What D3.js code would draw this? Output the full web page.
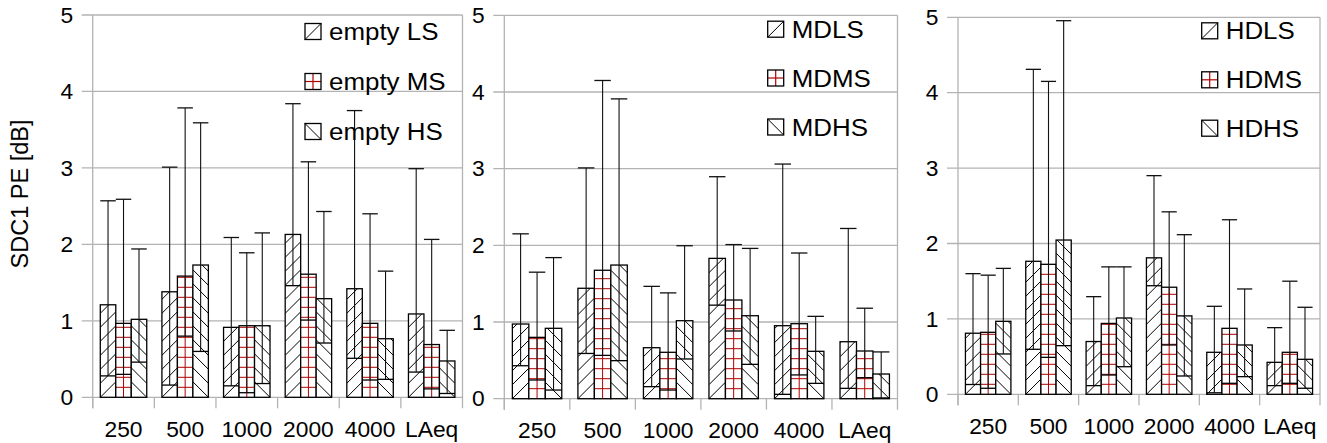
<!DOCTYPE html>
<html><head><meta charset="utf-8">
<script src="https://cdn.jsdelivr.net/npm/d3@7"></script>
<style>
body{margin:0;background:#fff}
svg{display:block}
text{font-family:"Liberation Sans",Arial,sans-serif;fill:#000}
</style>
</head><body>
<svg id="chart" width="1327" height="443"></svg>
<script>
// ---------- data ----------
const categories = ["250", "500", "1000", "2000", "4000", "LAeq"];
const yTicks = [0, 1, 2, 3, 4, 5];
const seriesKeys = ["LS", "MS", "HS"];
const yLabel = "SDC1 PE [dB]";

const emptyNames = ["empty LS", "empty MS", "empty HS"];
const emptyLS_bar   = [1.21, 1.38, 0.915, 2.13, 1.42, 1.09];
const emptyLS_low   = [0.28, 0.16, 0.15, 1.46, 0.51, 0.33];
const emptyLS_high  = [2.57, 3.01, 2.09, 3.84, 3.75, 2.99];
const emptyMS_bar   = [0.967, 1.585, 0.936, 1.61, 0.967, 0.69];
const emptyMS_low   = [0.30, 0.80, 0.06, 1.01, 0.226, 0.11];
const emptyMS_high  = [2.59, 3.785, 1.89, 3.08, 2.40, 2.065];
const emptyHS_bar   = [1.02, 1.73, 0.936, 1.29, 0.766, 0.475];
const emptyHS_low   = [0.46, 0.60, 0.18, 0.71, 0.235, 0.05];
const emptyHS_high  = [1.94, 3.59, 2.15, 2.43, 1.65, 0.876];

const mdNames = ["MDLS", "MDMS", "MDHS"];
const mdLS_bar  = [0.974, 1.44, 0.665, 1.83, 0.952, 0.743];
const mdLS_low  = [0.43, 0.59, 0.157, 1.22, 0.057, 0.135];
const mdLS_high = [2.15, 3.01, 1.465, 2.895, 3.06, 2.22];
const mdMS_bar  = [0.80, 1.675, 0.605, 1.287, 0.978, 0.622];
const mdMS_low  = [0.244, 0.565, 0.113, 0.883, 0.31, 0.274];
const mdMS_high = [1.65, 4.15, 1.38, 2.01, 1.90, 1.18];
const mdHS_bar  = [0.918, 1.743, 1.017, 1.082, 0.618, 0.322];
const mdHS_low  = [0.113, 0.496, 0.518, 0.448, 0.20, 0.01];
const mdHS_high = [1.84, 3.91, 1.995, 1.96, 1.074, 0.61];

const hdNames = ["HDLS", "HDMS", "HDHS"];
const hdLS_bar  = [0.81, 1.764, 0.70, 1.81, 0.557, 0.424];
const hdLS_low  = [0.13, 0.597, 0.115, 1.44, 0.02, 0.115];
const hdLS_high = [1.60, 4.31, 1.295, 2.90, 1.167, 0.884];
const hdMS_bar  = [0.822, 1.724, 0.94, 1.42, 0.875, 0.557];
const hdMS_low  = [0.08, 0.49, 0.256, 0.654, 0.146, 0.146];
const hdMS_high = [1.58, 4.15, 1.69, 2.42, 2.315, 1.50];
const hdHS_bar  = [0.968, 2.046, 1.012, 1.04, 0.654, 0.464];
const hdHS_low  = [0.535, 0.645, 0.366, 0.243, 0.234, 0.08];
const hdHS_high = [1.67, 4.955, 1.69, 2.117, 1.397, 1.154];

// ---------- layout ----------
const panels = [
  {names: emptyNames, bar: [emptyLS_bar, emptyMS_bar, emptyHS_bar],
   low: [emptyLS_low, emptyMS_low, emptyHS_low], high: [emptyLS_high, emptyMS_high, emptyHS_high],
   left: 92.7, right: 462.5, top: 15, bottom: 397.3,
   legX: 305, legY: [40, 90, 140]},
  {names: mdNames, bar: [mdLS_bar, mdMS_bar, mdHS_bar],
   low: [mdLS_low, mdMS_low, mdHS_low], high: [mdLS_high, mdMS_high, mdHS_high],
   left: 504.3, right: 897.5, top: 15.3, bottom: 398.7,
   legX: 767.7, legY: [37.7, 86.5, 135.5]},
  {names: hdNames, bar: [hdLS_bar, hdMS_bar, hdHS_bar],
   low: [hdLS_low, hdMS_low, hdHS_low], high: [hdLS_high, hdMS_high, hdHS_high],
   left: 958, right: 1320, top: 17.3, bottom: 394.3,
   legX: 1201.7, legY: [39.3, 88.3, 136.7]}
];

const svg = d3.select("#chart");
const defs = svg.append("defs");
const GRID = "#b3b3b3";
const RED = "#b00000";
const DIAG = 14;   // vertical period of diagonal hatch
const GRIDP = 10;  // period of red grid hatch
const TICK_FS = 21.5, TICK_SX = 1.06;
const LEG_FS = 24, LEG_SX = 1.08;
let clipId = 0;

function stretchedText(g, x, y, str, fs, sx, anchor, dy) {
  return g.append("text")
    .attr("transform", `translate(${x},${y}) scale(${sx},1)`)
    .attr("text-anchor", anchor).attr("dy", dy || null)
    .attr("font-size", fs).text(str);
}

function hatch(g, kind, bx, by, w, h) {
  const id = "clip" + (clipId++);
  defs.append("clipPath").attr("id", id)
    .append("rect").attr("x", bx).attr("y", by).attr("width", w).attr("height", h);
  const hg = g.append("g").attr("clip-path", `url(#${id})`);
  const yb = by + h;
  if (kind === "LS" || kind === "HS") {
    const n = Math.ceil((h + w) / DIAG) + 1;
    const ks = d3.range(n);
    hg.selectAll("line").data(ks).join("line")
      .attr("x1", bx).attr("x2", bx + w)
      .attr("y1", k => kind === "LS" ? yb - k * DIAG : yb - k * DIAG - w)
      .attr("y2", k => kind === "LS" ? yb - k * DIAG - w : yb - k * DIAG)
      .attr("stroke", "#000").attr("stroke-width", 1);
  } else {
    const ks = d3.range(1, Math.ceil(h / GRIDP) + 1);
    hg.selectAll("line.h").data(ks).join("line").attr("class", "h")
      .attr("x1", bx).attr("x2", bx + w)
      .attr("y1", k => yb - k * GRIDP).attr("y2", k => yb - k * GRIDP)
      .attr("stroke", RED).attr("stroke-width", 1);
    hg.append("line")
      .attr("x1", bx + w / 2).attr("x2", bx + w / 2).attr("y1", by).attr("y2", yb)
      .attr("stroke", RED).attr("stroke-width", 1);
  }
}

panels.forEach(p => {
  const g = svg.append("g");
  const x0 = d3.scaleBand().domain(categories).range([p.left, p.right]);
  const x1 = d3.scaleBand().domain(seriesKeys).range([0, x0.bandwidth()]).paddingOuter(0.49);
  const y = d3.scaleLinear().domain([0, 5]).range([p.bottom, p.top]);

  // gridlines + y ticks
  g.selectAll("line.grid").data(yTicks).join("line").attr("class", "grid")
    .attr("x1", p.left - 11).attr("x2", p.right)
    .attr("y1", d => y(d)).attr("y2", d => y(d))
    .attr("stroke", GRID).attr("stroke-width", 1.3);
  // left axis and right border
  [p.left, p.right].forEach(xx => {
    g.append("line").attr("x1", xx).attr("x2", xx).attr("y1", y(5)).attr("y2", y(0) + 11)
      .attr("stroke", GRID).attr("stroke-width", 1.3);
  });
  // category separators ticks
  g.selectAll("line.ct").data(categories).join("line").attr("class", "ct")
    .attr("x1", d => x0(d)).attr("x2", d => x0(d))
    .attr("y1", y(0)).attr("y2", y(0) + 11)
    .attr("stroke", GRID).attr("stroke-width", 1.3);

  // y tick labels
  yTicks.forEach(t => stretchedText(g, p.left - 19.5, y(t), String(t), TICK_FS, TICK_SX, "end", "0.36em"));
  // x tick labels
  categories.forEach(c => stretchedText(g, x0(c) + x0.bandwidth() / 2, y(0) + 39.5, c, TICK_FS, TICK_SX, "middle"));

  // bars
  seriesKeys.forEach((s, si) => {
    categories.forEach((c, ci) => {
      const v = p.bar[si][ci], lo = p.low[si][ci];
      const bx = x0(c) + x1(s), w = x1.bandwidth();
      const by = y(v), h = y(0) - y(v);
      g.append("rect").attr("x", bx).attr("y", by).attr("width", w).attr("height", h).attr("fill", "#fff");
      hatch(g, s, bx, by, w, h);
      g.append("rect").attr("x", bx).attr("y", by).attr("width", w).attr("height", h)
        .attr("fill", "none").attr("stroke", "#000").attr("stroke-width", 1.3);
      g.append("line").attr("x1", bx).attr("x2", bx + w).attr("y1", y(lo)).attr("y2", y(lo))
        .attr("stroke", "#000").attr("stroke-width", 1.3);
    });
  });
  // whiskers
  seriesKeys.forEach((s, si) => {
    categories.forEach((c, ci) => {
      const lo = p.low[si][ci], hi = p.high[si][ci];
      const bx = x0(c) + x1(s), w = x1.bandwidth(), cx = bx + w / 2;
      g.append("line").attr("x1", cx).attr("x2", cx).attr("y1", y(lo)).attr("y2", y(hi))
        .attr("stroke", "#111").attr("stroke-width", 1.1);
      g.append("line").attr("x1", bx).attr("x2", bx + w).attr("y1", y(hi)).attr("y2", y(hi))
        .attr("stroke", "#111").attr("stroke-width", 1.3);
    });
  });

  // legend
  p.names.forEach((name, i) => {
    const ly = p.legY[i];
    const sx = p.legX, sy = ly - 16.5, sz = 16;
    g.append("rect").attr("x", sx).attr("y", sy).attr("width", sz).attr("height", sz).attr("fill", "#fff");
    const k = seriesKeys[i];
    if (k === "LS") {
      g.append("line").attr("x1", sx).attr("y1", sy + sz).attr("x2", sx + sz).attr("y2", sy)
        .attr("stroke", "#000").attr("stroke-width", 1);
    } else if (k === "HS") {
      g.append("line").attr("x1", sx).attr("y1", sy).attr("x2", sx + sz).attr("y2", sy + sz)
        .attr("stroke", "#000").attr("stroke-width", 1);
    } else {
      g.append("line").attr("x1", sx).attr("y1", sy + sz / 2).attr("x2", sx + sz).attr("y2", sy + sz / 2)
        .attr("stroke", RED).attr("stroke-width", 1.2);
      g.append("line").attr("x1", sx + sz / 2).attr("y1", sy).attr("x2", sx + sz / 2).attr("y2", sy + sz)
        .attr("stroke", RED).attr("stroke-width", 1.2);
    }
    g.append("rect").attr("x", sx).attr("y", sy).attr("width", sz).attr("height", sz)
      .attr("fill", "none").attr("stroke", "#000").attr("stroke-width", 1.3);
    stretchedText(g, sx + 24, ly, name, LEG_FS, LEG_SX, "start");
  });
});

// y axis title
svg.append("text")
  .attr("transform", "translate(28,194) rotate(-90)")
  .attr("text-anchor", "middle").attr("font-size", 23.5).text(yLabel);
</script>
</body></html>
